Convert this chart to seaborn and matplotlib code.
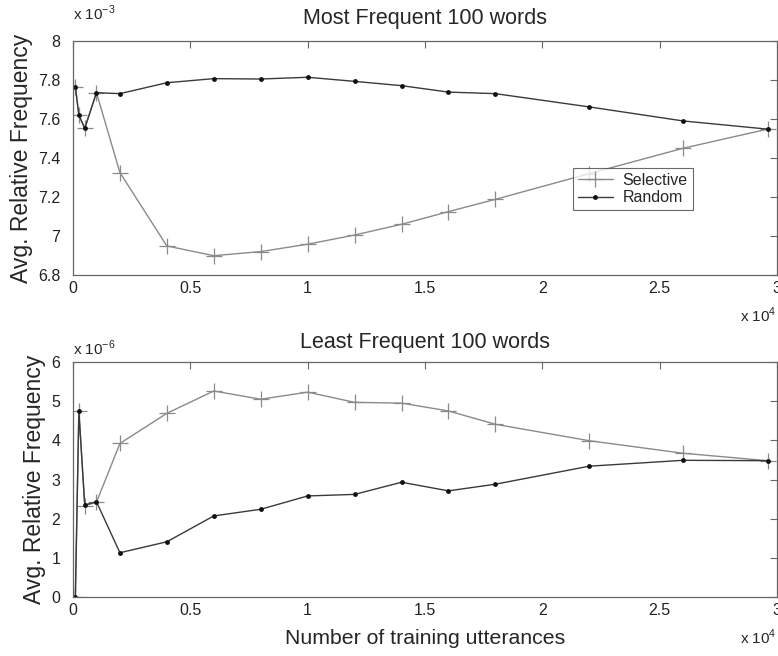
import numpy as np
import pandas as pd
import seaborn as sns
import matplotlib
matplotlib.use("Agg")
import matplotlib.pyplot as plt
from matplotlib.ticker import FuncFormatter, MultipleLocator

# ---- data ----
x_utts = [100, 250, 500, 1000, 2000, 4000, 6000, 8000, 10000, 12000,
          14000, 16000, 18000, 22000, 26000, 29600]

most_selective = [7.766, 7.62, 7.552, 7.735, 7.325, 6.949, 6.899, 6.92, 6.958,
                  7.005, 7.06, 7.125, 7.188, 7.32, 7.45, 7.548]  # x 1e-3
most_random = [7.766, 7.62, 7.552, 7.735, 7.73, 7.786, 7.807, 7.805, 7.814,
               7.793, 7.771, 7.738, 7.73, 7.662, 7.59, 7.548]  # x 1e-3

least_selective = [0.0, 4.75, 2.33, 2.42, 3.92, 4.69, 5.26, 5.05, 5.23,
                   4.97, 4.95, 4.75, 4.41, 3.99, 3.67, 3.48]  # x 1e-6
least_random = [0.0, 4.75, 2.35, 2.43, 1.13, 1.41, 2.07, 2.24, 2.58,
                2.62, 2.93, 2.71, 2.88, 3.34, 3.49, 3.48]  # x 1e-6

titles = ["Most Frequent 100 words", "Least Frequent 100 words"]
series_names = ["Selective", "Random"]

sns.set_style("white")
plt.rcParams['font.family'] = ['Liberation Sans', 'DejaVu Sans']
plt.rcParams['mathtext.fontset'] = 'custom'
plt.rcParams['mathtext.rm'] = 'Liberation Sans'

fig = plt.figure(figsize=(7.78, 6.56), dpi=100)
ax1 = fig.add_axes([73/778, 1-275/656, 704/778, 234/656])
ax2 = fig.add_axes([73/778, 1-597/656, 704/778, 235/656])

sel_color = "#8a8a8a"
rnd_color = "#3a3a3a"

def draw(ax, sel, rnd, scale):
    df = pd.DataFrame({"x": x_utts, "sel": np.array(sel) * scale,
                       "rnd": np.array(rnd) * scale})
    sns.lineplot(data=df, x="x", y="sel", ax=ax, color=sel_color, marker="+",
                 markersize=11, markeredgewidth=0.9, markeredgecolor=sel_color,
                 linewidth=1.0, label=series_names[0], legend=False)
    sns.lineplot(data=df, x="x", y="rnd", ax=ax, color=rnd_color, marker="o",
                 markersize=3.5, markeredgewidth=0, markerfacecolor="#111111",
                 linewidth=1.0, label=series_names[1], legend=False)

draw(ax1, most_selective, most_random, 1e-3)
draw(ax2, least_selective, least_random, 1e-6)

cfg = [(6.8e-3, 8e-3, 0.2e-3, 1e3, "3", 12, 1.075),
       (0, 6e-6, 1e-6, 1e6, "6", 10, 1.015)]
for ax, title, (ylo, yhi, ystep, scale, exp, tpad, oy) in zip([ax1, ax2], titles, cfg):
    ax.set_xlim(0, 30000)
    ax.set_ylim(ylo, yhi)
    ax.xaxis.set_major_locator(MultipleLocator(5000))
    ax.yaxis.set_major_locator(MultipleLocator(ystep))
    ax.xaxis.set_major_formatter(FuncFormatter(lambda v, p: f"{v/1e4:g}"))
    ax.yaxis.set_major_formatter(FuncFormatter(lambda v, p, s=scale: f"{round(v*s, 3):g}"))
    ax.tick_params(direction="in", length=5, width=0.8, top=True, right=True,
                   labelsize=11.5, colors="#222222")
    ax.tick_params(axis="x", pad=4)
    ax.tick_params(axis="y", pad=9)
    ax.tick_params(axis="both", color="#666666")
    for sp in ax.spines.values():
        sp.set_color("#666666")
        sp.set_linewidth(0.9)
    ax.set_title(title, fontsize=15.5, pad=tpad)
    ax.set_ylabel("Avg. Relative Frequency", fontsize=16.5, labelpad=4)
    ax.set_xlabel("")
    ax.text(0.0, oy, "x 10$^{\u2212" + exp + "}$", transform=ax.transAxes,
            fontsize=11, ha="left", va="bottom")
    ax.text(1.0, -0.13, "x 10$^{4}$", transform=ax.transAxes,
            fontsize=11, ha="right", va="top")

ax2.set_xlabel("Number of training utterances", fontsize=15.3, labelpad=8)

leg = ax1.legend(loc="upper right", bbox_to_anchor=(0.88, 0.457), fontsize=11.5,
                 frameon=True, fancybox=False, shadow=False, borderpad=0.3,
                 borderaxespad=0, handlelength=2.2, handletextpad=0.6,
                 labelspacing=0.15)
leg.get_frame().set_edgecolor("#444444")
leg.get_frame().set_linewidth(0.8)

fig.savefig("out.png", dpi=100)
